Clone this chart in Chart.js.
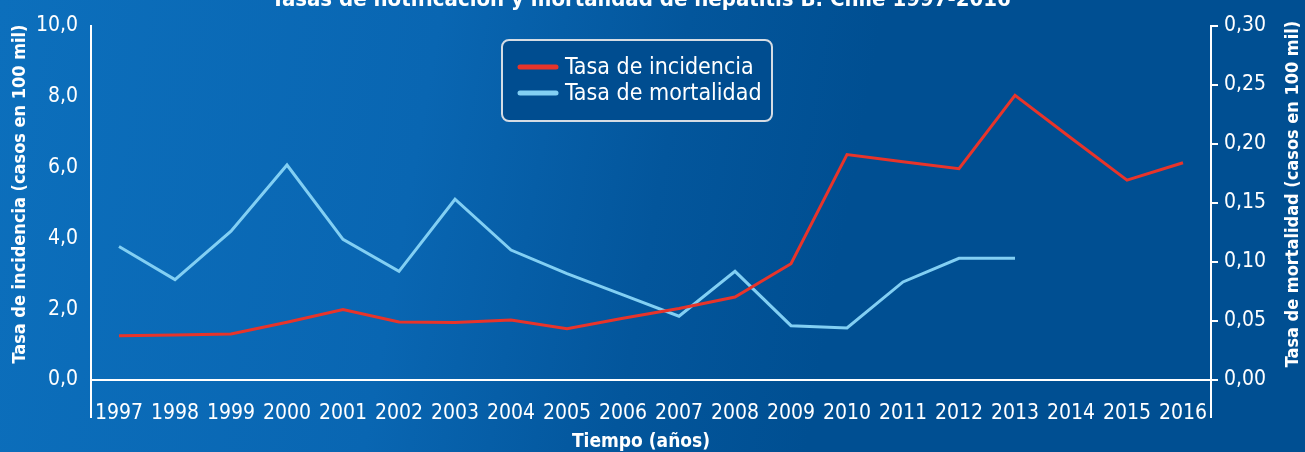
<!DOCTYPE html>
<html lang="es">
<head>
<meta charset="utf-8">
<title>Hepatitis B Chile 1997-2016</title>
<script src="https://cdn.jsdelivr.net/npm/chart.js@4.4.1/dist/chart.umd.min.js"></script>
<style>
  html, body { margin: 0; padding: 0; }
  body {
    width: 1305px; height: 452px; overflow: hidden;
    background: linear-gradient(100deg, #0c6fbc 0%, #0966b2 32%, #03569c 50%, #004f92 64%, #004f92 100%);
  }
  #wrap { position: relative; width: 1305px; height: 452px; }
</style>
</head>
<body>
<div id="wrap"><canvas id="hepChart" width="1305" height="452"></canvas></div>
<script>
const years = ["1997", "1998", "1999", "2000", "2001", "2002", "2003", "2004", "2005", "2006",
               "2007", "2008", "2009", "2010", "2011", "2012", "2013", "2014", "2015", "2016"];

// tasa de incidencia (casos en 100 mil)
const incidencia = [1.25, 1.27, 1.30, 1.63, 1.99, 1.64, 1.62, 1.69, 1.45, 1.74,
                    2.02, 2.34, 3.28, 6.36, 6.16, 5.96, 8.03, 6.83, 5.64, 6.13];

// tasa de mortalidad (casos en 100 mil), sin datos desde 2014
const mortalidad = [0.113, 0.085, 0.126, 0.182, 0.119, 0.092, 0.153, 0.110, 0.090, 0.072,
                    0.054, 0.092, 0.046, 0.044, 0.083, 0.103, 0.103, null, null, null];

const TITLE = "Tasas de notificación y mortalidad de hepatitis B. Chile 1997-2016";
const Y_TITLE = "Tasa de incidencia (casos en 100 mil)";
const Y1_TITLE = "Tasa de mortalidad (casos en 100 mil)";
const X_TITLE = "Tiempo (años)";

const FONT = "'Liberation Sans Narrow', 'Arial Narrow', 'DejaVu Sans Condensed', sans-serif";
const WHITE = "#ffffff";
const RED = "#e8342a";
const LIGHT_BLUE = "#82cff3";

const comma = (v, d) => Number(v).toFixed(d).replace(".", ",");

// titles, axis line extensions and the boxed legend
const decorations = {
  id: "decorations",
  afterDraw(chart) {
    const { ctx, chartArea } = chart;
    const yL = chart.scales.y, yR = chart.scales.y1;
    ctx.save();

    // vertical axes continue below the x axis
    ctx.strokeStyle = WHITE;
    ctx.lineWidth = 2;
    [Math.round(yL.right), Math.round(yR.left)].forEach(x => {
      ctx.beginPath();
      ctx.moveTo(x, chartArea.bottom);
      ctx.lineTo(x, chartArea.bottom + 38);
      ctx.stroke();
    });

    ctx.fillStyle = WHITE;
    ctx.textAlign = "center";
    ctx.textBaseline = "alphabetic";
    ctx.font = `bold 22px ${FONT}`;
    ctx.fillText(TITLE, 641, 6);

    ctx.font = `bold 19px ${FONT}`;
    ctx.fillText(X_TITLE, (chartArea.left + chartArea.right) / 2 - 10, 447);

    ctx.font = `bold 18px ${FONT}`;
    ctx.textBaseline = "middle";
    [[20, Y_TITLE], [1293, Y1_TITLE]].forEach(([x, txt]) => {
      ctx.save();
      ctx.translate(x, 194);
      ctx.rotate(-Math.PI / 2);
      ctx.fillText(txt, 0, 0);
      ctx.restore();
    });

    // legend box
    const bx = 502, by = 40, bw = 270, bh = 81;
    ctx.beginPath();
    ctx.roundRect(bx, by, bw, bh, 7);
    ctx.fillStyle = "#004d90";
    ctx.fill();
    ctx.strokeStyle = "#d5dce4";
    ctx.lineWidth = 2;
    ctx.stroke();

    ctx.font = `23px ${FONT}`;
    ctx.textAlign = "left";
    chart.data.datasets.forEach((ds, i) => {
      const cy = by + 27 + i * 26;
      ctx.beginPath();
      ctx.strokeStyle = ds.borderColor;
      ctx.lineWidth = 5;
      ctx.lineCap = "round";
      ctx.moveTo(bx + 18, cy);
      ctx.lineTo(bx + 54, cy);
      ctx.stroke();
      ctx.fillStyle = WHITE;
      ctx.fillText(ds.label, bx + 63, cy + 1);
    });

    ctx.restore();
  }
};

new Chart(document.getElementById("hepChart"), {
  type: "line",
  data: {
    labels: years,
    datasets: [
      {
        label: "Tasa de incidencia",
        data: incidencia,
        borderColor: RED,
        borderWidth: 3,
        pointRadius: 0,
        yAxisID: "y"
      },
      {
        label: "Tasa de mortalidad",
        data: mortalidad,
        borderColor: LIGHT_BLUE,
        borderWidth: 3,
        pointRadius: 0,
        yAxisID: "y1"
      }
    ]
  },
  options: {
    responsive: false,
    animation: false,
    devicePixelRatio: 1,
    layout: { padding: { top: 22, left: 0, right: 0, bottom: 0 } },
    plugins: {
      legend: { display: false },
      tooltip: { enabled: false },
      title: { display: false }
    },
    scales: {
      x: {
        type: "category",
        offset: true,
        grid: { display: false },
        border: { display: true, color: WHITE, width: 2 },
        ticks: {
          color: WHITE,
          font: { family: FONT, size: 21 },
          padding: 13,
          autoSkip: false,
          maxRotation: 0
        },
        afterFit(s) { s.height = 72; }
      },
      y: {
        position: "left",
        min: 0,
        max: 10,
        grid: { drawOnChartArea: false, drawTicks: false },
        border: { display: true, color: WHITE, width: 2 },
        ticks: {
          stepSize: 2,
          color: WHITE,
          font: { family: FONT, size: 21 },
          padding: 13,
          callback: v => comma(v, 1)
        },
        afterFit(s) { s.width = 91; }
      },
      y1: {
        position: "right",
        min: 0,
        max: 0.3,
        grid: { drawOnChartArea: false, drawTicks: true, tickLength: 7, color: WHITE, lineWidth: 2 },
        border: { display: true, color: WHITE, width: 2 },
        ticks: {
          stepSize: 0.05,
          color: WHITE,
          font: { family: FONT, size: 21 },
          padding: 6,
          callback: v => comma(v, 2)
        },
        afterFit(s) { s.width = 94; }
      }
    }
  },
  plugins: [decorations]
});
</script>
</body>
</html>
